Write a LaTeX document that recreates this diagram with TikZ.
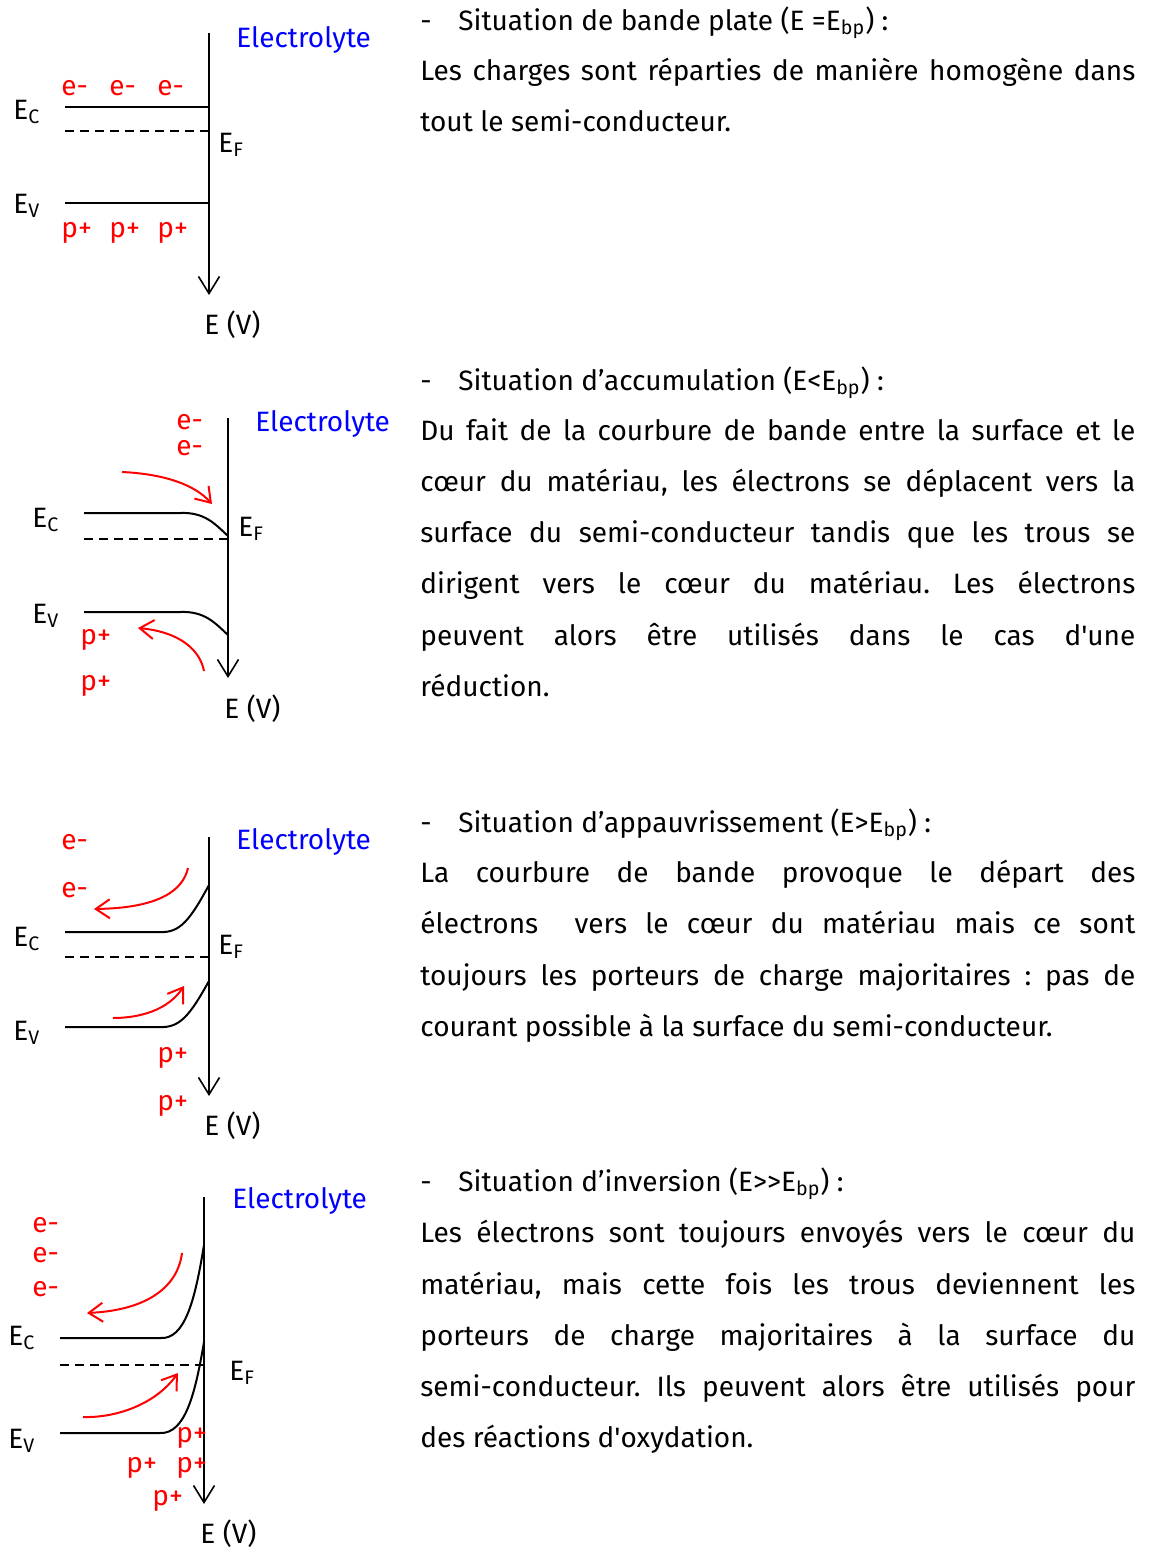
\documentclass[tikz,border=0pt]{standalone}
\usepackage{fontspec}
\setmainfont{Fira Sans}
\usetikzlibrary{arrows.meta}
\frenchspacing
\newcommand\justline[1]{\makebox[357.5pt][s]{#1}}
\newcommand\tiret{\makebox[19pt][l]{-}}

\begin{document}
\begin{tikzpicture}[x=0.5pt,y=-0.5pt,
	font=\fontsize{14}{17}\selectfont,
	band/.style={line width=1pt},
	fermi/.style={line width=1pt,dash pattern=on 4.5pt off 3pt},
	axe/.style={line width=0.8pt,-{Straight Barb[length=8.5pt,width=10.5pt]}},
	flux/.style={red,line width=1pt,-{Straight Barb[length=7pt,width=9.5pt]}},
	lab/.style={anchor=base west,inner sep=0pt},
	charge/.style={lab,text=red},
	elec/.style={lab,text=blue}]
\useasboundingbox (0,0) rectangle (1148,1548);
%
% bande plate
	\draw[axe] (209,33) -- (209,295);
	\draw[band] (65,107) -- (209,107);
	\draw[fermi] (65,131) -- (209,131);
	\draw[band] (65,203) -- (209,203);
	\node[elec] (el1) at (236,47) {Electrolyte};
	\node[lab] (ec1) at (13,119) {E\textsubscript{C}};
	\node[lab] (ef1) at (218,152) {E\textsubscript{F}};
	\node[lab] (ev1) at (13,213) {E\textsubscript{V}};
	\node[lab] (ax1) at (204,334) {E (V)};
	\node[charge] (e1a) at (61,95) {e-};
	\node[charge] (e1b) at (109,95) {e-};
	\node[charge] (e1c) at (157,95) {e-};
	\node[charge] (p1a) at (61,237) {p+};
	\node[charge] (p1b) at (109,237) {p+};
	\node[charge] (p1c) at (157,237) {p+};
%
% accumulation
	\draw[axe] (228,418) -- (228,678);
	\draw[band] (84,513) -- (180,513) .. controls (205,512) and (215,524) .. (228,536);
	\draw[fermi] (84,539) -- (228,539);
	\draw[band] (84,612) -- (180,612) .. controls (205,611) and (215,623) .. (228,635);
	\draw[flux] (122,472) .. controls (165,474) and (195,485) .. (212,504);
	\draw[flux] (204,671) .. controls (200,650) and (180,632) .. (138,628);
	\node[elec] (el2) at (255,431) {Electrolyte};
	\node[lab] (ec2) at (32,527) {E\textsubscript{C}};
	\node[lab] (ef2) at (238,536) {E\textsubscript{F}};
	\node[lab] (ev2) at (32,623) {E\textsubscript{V}};
	\node[lab] (ax2) at (224,718) {E (V)};
	\node[charge] (e2a) at (176,429) {e-};
	\node[charge] (e2b) at (176,455) {e-};
	\node[charge] (p2a) at (80,644) {p+};
	\node[charge] (p2b) at (80,690) {p+};
%
% appauvrissement
	\draw[axe] (209,837) -- (209,1096);
	\draw[band] (65,932) -- (160,932) .. controls (180,933) and (190,920) .. (209,885);
	\draw[fermi] (65,957) -- (209,957);
	\draw[band] (65,1027) -- (160,1027) .. controls (180,1028) and (190,1015) .. (209,981);
	\draw[flux] (188,868) .. controls (183,890) and (160,908) .. (94,909);
	\draw[flux] (113,1018) .. controls (140,1018) and (168,1010) .. (184,986);
	\node[elec] (el3) at (236,849) {Electrolyte};
	\node[lab] (ec3) at (13,946) {E\textsubscript{C}};
	\node[lab] (ef3) at (218,954) {E\textsubscript{F}};
	\node[lab] (ev3) at (13,1040) {E\textsubscript{V}};
	\node[lab] (ax3) at (204,1135) {E (V)};
	\node[charge] (e3a) at (61,849) {e-};
	\node[charge] (e3b) at (61,897) {e-};
	\node[charge] (p3a) at (157,1062) {p+};
	\node[charge] (p3b) at (157,1110) {p+};
%
% inversion
	\draw[axe] (204,1197) -- (204,1504);
	\draw[band] (60,1338) -- (160,1338) .. controls (185,1340) and (195,1300) .. (204,1245);
	\draw[fermi] (60,1365) -- (204,1365);
	\draw[band] (60,1433) -- (160,1433) .. controls (185,1434) and (195,1395) .. (204,1342);
	\draw[flux] (182,1253) .. controls (178,1285) and (150,1310) .. (87,1313);
	\draw[flux] (83,1417) .. controls (115,1418) and (155,1405) .. (178,1373);
	\node[elec] (el4) at (232,1208) {Electrolyte};
	\node[lab] (ec4) at (8,1345) {E\textsubscript{C}};
	\node[lab] (ef4) at (229,1380) {E\textsubscript{F}};
	\node[lab] (ev4) at (8,1448) {E\textsubscript{V}};
	\node[lab] (ax4) at (200,1543) {E (V)};
	\node[charge] (e4a) at (32,1232) {e-};
	\node[charge] (e4b) at (32,1262) {e-};
	\node[charge] (e4c) at (32,1296) {e-};
	\node[charge] (p4a) at (176,1442) {p+};
	\node[charge] (p4b) at (126,1472) {p+};
	\node[charge] (p4c) at (176,1472) {p+};
	\node[charge] (p4d) at (152,1505) {p+};
%
% texte
	\node[lab] (t1) at (420,30) {\tiret Situation de bande plate (E =E\textsubscript{bp}) :};
	\node[lab] (t1a) at (420,80) {\justline{Les charges sont réparties de manière homogène dans}};
	\node[lab] (t1b) at (420,131) {tout le semi-conducteur.};
%
	\node[lab] (t2) at (420,390) {\tiret Situation d’accumulation (E<E\textsubscript{bp}) :};
	\node[lab] (t2a) at (420,440) {\justline{Du fait de la courbure de bande entre la surface et le}};
	\node[lab] (t2b) at (420,491) {\justline{cœur du matériau, les électrons se déplacent vers la}};
	\node[lab] (t2c) at (420,542) {\justline{surface du semi-conducteur tandis que les trous se}};
	\node[lab] (t2d) at (420,593) {\justline{dirigent vers le cœur du matériau. Les électrons}};
	\node[lab] (t2e) at (420,645) {\justline{peuvent alors être utilisés dans le cas d\textquotesingle une}};
	\node[lab] (t2f) at (420,696) {réduction.};
%
	\node[lab] (t3) at (420,832) {\tiret Situation d’appauvrissement (E>E\textsubscript{bp}) :};
	\node[lab] (t3a) at (420,882) {\justline{La courbure de bande provoque le départ des}};
	\node[lab] (t3b) at (420,933) {\justline{électrons\ \ vers le cœur du matériau mais ce sont}};
	\node[lab] (t3c) at (420,985) {\justline{toujours les porteurs de charge majoritaires : pas de}};
	\node[lab] (t3d) at (420,1036) {courant possible à la surface du semi-conducteur.};
%
	\node[lab] (t4) at (420,1191) {\tiret Situation d’inversion (E>\kern0pt>E\textsubscript{bp}) :};
	\node[lab] (t4a) at (420,1242) {\justline{Les électrons sont toujours envoyés vers le cœur du}};
	\node[lab] (t4b) at (420,1294) {\justline{matériau, mais cette fois les trous deviennent les}};
	\node[lab] (t4c) at (420,1345) {\justline{porteurs de charge majoritaires à la surface du}};
	\node[lab] (t4d) at (420,1396) {\justline{semi-conducteur. Ils peuvent alors être utilisés pour}};
	\node[lab] (t4e) at (420,1447) {des réactions d\textquotesingle oxydation.};
\end{tikzpicture}
\end{document}
